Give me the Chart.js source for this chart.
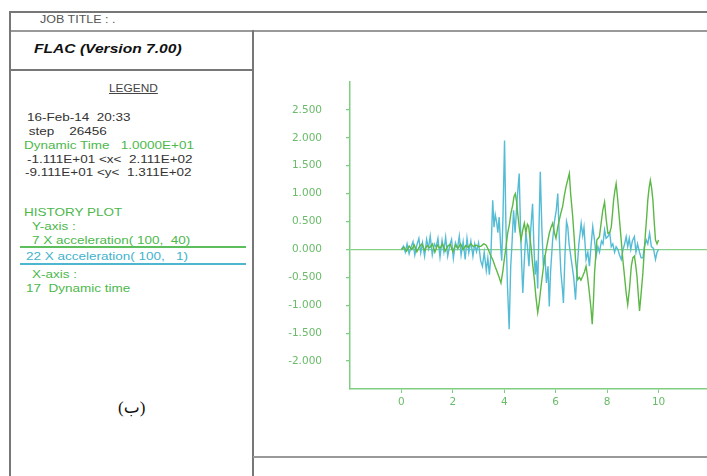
<!DOCTYPE html>
<html>
<head>
<meta charset="utf-8">
<script src="https://cdn.jsdelivr.net/npm/chart.js@4.4.0/dist/chart.umd.min.js"></script>
<style>
  body { margin: 0; width: 707px; height: 476px; overflow: hidden; background: #fff; position: relative;
         font-family: "Liberation Sans", Arial, sans-serif; }
  .ln { position: absolute; background: #777; }
  .t { position: absolute; font-size: 10.8px; line-height: 12px; color: #333; white-space: pre;
       transform: scaleX(1.25); transform-origin: 0 0; }
  .g { color: #4cb84c; }
  .c { color: #3fb3cc; }
  #chart { position: absolute; left: 254px; top: 40px; }
</style>
</head>
<body>
<!-- frame -->
<div class="ln" style="left:9px;top:11px;width:698px;height:2px"></div>
<div class="ln" style="left:9px;top:30px;width:698px;height:2px;background:#999"></div>
<div class="ln" style="left:9px;top:11px;width:2px;height:465px"></div>
<div class="ln" style="left:252px;top:30px;width:2px;height:446px"></div>
<div class="ln" style="left:9px;top:69px;width:244px;height:2px"></div>
<div class="ln" style="left:253px;top:456px;width:454px;height:2px;background:#999"></div>

<div class="t" style="left:40px;top:14px;font-size:10px;color:#555">JOB TITLE : .</div>
<div class="t" style="left:34px;top:41px;font-size:13px;line-height:15px;font-weight:bold;font-style:italic;color:#111;transform:scaleX(1.2)">FLAC (Version 7.00)</div>
<div class="t" style="left:109px;top:82px;text-decoration:underline;color:#444;transform:scaleX(1.1)">LEGEND</div>

<div class="t" style="left:27px;top:111px">16-Feb-14  20:33</div>
<div class="t" style="left:25px;top:125px"> step    26456</div>
<div class="t g" style="left:24px;top:139px">Dynamic Time   1.0000E+01</div>
<div class="t" style="left:27px;top:153px">-1.111E+01 &lt;x&lt;  2.111E+02</div>
<div class="t" style="left:25px;top:166px">-9.111E+01 &lt;y&lt;  1.311E+02</div>

<div class="t g" style="left:24px;top:206px">HISTORY PLOT</div>
<div class="t g" style="left:32px;top:220px">Y-axis :</div>
<div class="t g" style="left:32px;top:234px">7 X acceleration( 100,  40)</div>
<div class="ln" style="left:20px;top:246px;width:226px;height:1.5px;background:#5cbf5c"></div>
<div class="t c" style="left:26px;top:250px">22 X acceleration( 100,   1)</div>
<div class="ln" style="left:20px;top:263px;width:226px;height:1.5px;background:#4fb6cf"></div>
<div class="t g" style="left:32px;top:268px">X-axis :</div>
<div class="t g" style="left:26px;top:282px">17  Dynamic time</div>

<div class="t" style="left:118px;top:398px;font-size:17px;line-height:20px;color:#111;transform:none;font-family:'Liberation Serif','DejaVu Sans',serif">(ب)</div>

<canvas id="chart" width="456" height="410"></canvas>

<script>
const xTicks = [0, 2, 4, 6, 8, 10]
const yTicks = [-2, -1.5, -1, -0.5, 0, 0.5, 1, 1.5, 2, 2.5]

// 7 X acceleration(100, 40)
const greenTime = [
  0, 0.1, 0.2, 0.3, 0.4, 0.5, 0.6, 0.7, 0.8, 0.9, 1.0, 1.1, 1.2, 1.3, 1.4, 1.5, 1.6, 1.7, 1.8, 1.9,
  2.0, 2.1, 2.2, 2.3, 2.4, 2.5, 2.6, 2.7, 2.8, 2.9, 3.0,
  3.1, 3.2, 3.29, 3.38, 3.46, 3.55, 3.64, 3.74, 3.8, 3.87, 3.94, 4.0, 4.07, 4.13, 4.2, 4.26, 4.33, 4.38, 4.43, 4.48,
  4.52, 4.58, 4.65, 4.72, 4.78, 4.84, 4.9, 4.95, 5.0, 5.04, 5.1, 5.17, 5.23, 5.3, 5.36, 5.43, 5.5, 5.56, 5.65, 5.75,
  5.82, 5.88, 5.95, 6.01, 6.08, 6.14, 6.2, 6.27, 6.33, 6.4, 6.47, 6.53, 6.58, 6.62, 6.66, 6.72, 6.77, 6.82, 6.86, 6.92,
  6.98, 7.05, 7.12, 7.18, 7.24, 7.31, 7.37, 7.42, 7.47, 7.51, 7.56, 7.6, 7.65, 7.7, 7.76, 7.83, 7.9, 7.96, 8.03, 8.1,
  8.16, 8.21, 8.25, 8.3, 8.35, 8.41, 8.48, 8.55, 8.61, 8.68, 8.74, 8.8, 8.87, 8.94, 9.0, 9.06, 9.11, 9.16, 9.21, 9.26,
  9.32, 9.39, 9.44, 9.49, 9.54, 9.58, 9.63, 9.68, 9.73, 9.78, 9.83, 9.88, 9.94, 10.0
]
const greenAcc = [
  0, 0.04, -0.03, 0.06, 0.0, 0.08, -0.04, 0.05, 0.1, -0.02, 0.07, 0.03, 0.1, -0.05, 0.08, 0.02, 0.1, -0.03, 0.06, 0.09,
  -0.04, 0.08, 0.02, 0.1, 0.0, 0.07, 0.04, 0.1, 0.05, 0.08, 0.05,
  0.06, 0.1, 0.08, 0.0, -0.1, -0.18, -0.3, -0.42, -0.5, -0.6, -0.4, -0.18, 0.05, 0.29, 0.45, 0.65, 0.8, 0.95, 1.0, 0.85,
  0.65, 0.4, 0.17, 0.35, 0.47, 0.3, 0.45, 0.41, 0.2, 0.05, -0.25, -0.54, -0.85, -1.13, -0.95, -0.66, -0.4, -0.18, 0.05, 0.29,
  0.4, 0.47, 0.3, 0.2, 0.4, 0.53, 0.65, 0.77, 0.95, 1.12, 1.25, 1.36, 1.0, 0.8, 0.59, 0.2, -0.18, -0.4, -0.54, -0.5,
  -0.55, -0.48, -0.4, -0.3, -0.5, -0.78, -1.05, -1.34, -0.9, -0.42, -0.1, 0.17, 0.2, 0.23, 0.45, 0.7, 0.85, 0.55, 0.29, 0.3,
  0.4, 0.65, 0.88, 1.05, 1.18, 0.9, 0.53, 0.15, -0.18, -0.5, -0.78, -0.99, -0.7, -0.3, -0.15, -0.12, -0.28, -0.48, -0.8, -1.1,
  -0.8, -0.42, -0.05, 0.29, 0.6, 0.88, 1.1, 1.24, 1.1, 0.88, 0.5, 0.17, 0.1, 0.17
]

// 22 X acceleration(100, 1)
const cyanTime = [
  0, 0.08, 0.15, 0.22, 0.3, 0.38, 0.45, 0.52, 0.6, 0.68, 0.75, 0.82, 0.9, 0.98, 1.05, 1.12, 1.2, 1.28, 1.35, 1.42,
  1.5, 1.58, 1.65, 1.72, 1.8, 1.88, 1.95, 2.02, 2.1, 2.18, 2.25, 2.32, 2.4, 2.48, 2.55, 2.62, 2.7, 2.78, 2.85, 2.92,
  3.0, 3.08, 3.15, 3.22, 3.3, 3.36, 3.42, 3.48, 3.55, 3.6, 3.65, 3.7, 3.75, 3.8, 3.86, 3.9, 3.95, 4.01, 4.06, 4.12,
  4.19, 4.25, 4.3, 4.36, 4.42, 4.5, 4.58, 4.63, 4.68, 4.72, 4.78, 4.84, 4.9, 4.96, 5.02, 5.1, 5.15, 5.2, 5.25, 5.3,
  5.35, 5.4, 5.46, 5.52, 5.58, 5.64, 5.7, 5.75, 5.8, 5.88, 5.95, 6.02, 6.08, 6.14, 6.2, 6.26, 6.3, 6.36, 6.42, 6.47,
  6.52, 6.58, 6.64, 6.7, 6.77, 6.84, 6.9, 6.95, 6.99, 7.05, 7.1, 7.18, 7.25, 7.31, 7.38, 7.44, 7.5, 7.57, 7.64, 7.7,
  7.78, 7.84, 7.9, 7.96, 8.03, 8.1, 8.16, 8.22, 8.29, 8.35, 8.42, 8.48, 8.55, 8.62, 8.68, 8.74, 8.8, 8.86, 8.92, 8.98,
  9.06, 9.12, 9.18, 9.26, 9.32, 9.39, 9.45, 9.52, 9.58, 9.65, 9.72, 9.8, 9.88, 9.94, 10.0
]
const cyanAcc = [
  0, 0.06, -0.05, 0.1, -0.08, 0.05, 0.14, -0.1, 0.08, 0.2, -0.06, 0.12, -0.12, 0.18, 0.02, 0.24, -0.1, 0.1, 0.04, 0.2,
  -0.14, 0.16, -0.04, 0.22, -0.12, 0.08, 0.18, -0.16, 0.12, 0.02, 0.24, -0.1, 0.14, -0.18, 0.2, -0.06, 0.15, -0.12, 0.1, -0.04,
  0.12, -0.2, -0.3, -0.05, -0.38, -0.15, -0.45, -0.1, 0.88, 0.4, 0.62, 0.5, 0.3, 0.58, 0.05, -0.2, 0.6, 1.95, 0.5, -0.6,
  -1.43, -0.3, 0.1, 0.7, 0.3, 0.9, 1.36, 0.4, -0.3, -0.78, -0.2, 0.3, 0.05, -0.3, 0.3, 0.82, 0.1, -0.45, -0.2, -0.7,
  0.4, 1.39, 0.4, -0.3, -0.1, -0.6, -0.3, -1.02, -0.4, 0.17, 0.5, 0.7, 1.0, 0.2, -0.4, -0.7, -0.96, -0.1, 0.5, 0.4,
  0.1, -0.1, -0.3, -0.5, -0.9, -0.3, 0.1, 0.3, 0.47, 0.25, 0.4, -0.18, -0.05, -0.3, 0.1, 0.41, 0.2, -0.12, 0.05, -0.05,
  0.15, 0.1, 0.35, 0.2, 0.23, 0.3, 0.05, 0.1, -0.05, 0.05, 0.0, -0.1, -0.18, 0.0, 0.1, 0.23, 0.05, 0.2, 0.0, 0.15,
  0.23, -0.05, 0.1, -0.05, -0.15, -0.15, 0.05, 0.17, 0.1, 0.29, 0.05, 0.02, -0.18, -0.05, 0.0
]

const axisGreen = '#80cf80'
const labelGreen = '#6abb6a'

function toPoints(times, values){
  return times.map((t, i) => ({x: t, y: values[i]}))
}

new Chart(document.getElementById('chart'), {
  type: 'line',
  data: {
    datasets: [{
      label: '7 X acceleration( 100, 40)',
      data: toPoints(greenTime, greenAcc),
      borderColor: '#5cb846',
      borderWidth: 1.4,
      pointRadius: 0,
      tension: 0,
      order: 0
    }, {
      label: '22 X acceleration( 100, 1)',
      data: toPoints(cyanTime, cyanAcc),
      borderColor: '#55bcd6',
      borderWidth: 1.4,
      pointRadius: 0,
      tension: 0,
      order: 1
    }]
  },
  options: {
    responsive: false,
    animation: false,
    devicePixelRatio: 1,
    layout: { padding: { top: 42, right: 0, left: 0, bottom: 0 } },
    plugins: { legend: { display: false }, tooltip: { enabled: false } },
    scales: {
      x: {
        type: 'linear',
        min: -2,
        max: 12,
        afterBuildTicks: scale => { scale.ticks = xTicks.map(v => ({value: v})) },
        afterFit: scale => { scale.height = 61 },
        border: { color: axisGreen, width: 1.5 },
        grid: { drawOnChartArea: false, tickLength: 4, tickColor: axisGreen },
        ticks: {
          padding: 3,
          color: labelGreen,
          font: { family: 'DejaVu Sans', size: 10.5 },
          maxRotation: 0,
          callback: v => String(v)
        }
      },
      y: {
        min: -2.5,
        max: 3,
        afterBuildTicks: scale => { scale.ticks = yTicks.map(v => ({value: v})) },
        afterFit: scale => { scale.width = 96 },
        border: { color: axisGreen, width: 1.5 },
        grid: {
          color: ctx => ctx.tick && ctx.tick.value === 0 ? '#86cf86' : 'rgba(0,0,0,0)',
          lineWidth: 1.3,
          tickLength: 4,
          tickColor: axisGreen
        },
        ticks: {
          padding: 24,
          color: labelGreen,
          font: { family: 'DejaVu Sans', size: 10.5 },
          callback: v => v.toFixed(3)
        }
      }
    }
  }
})
</script>
</body>
</html>
